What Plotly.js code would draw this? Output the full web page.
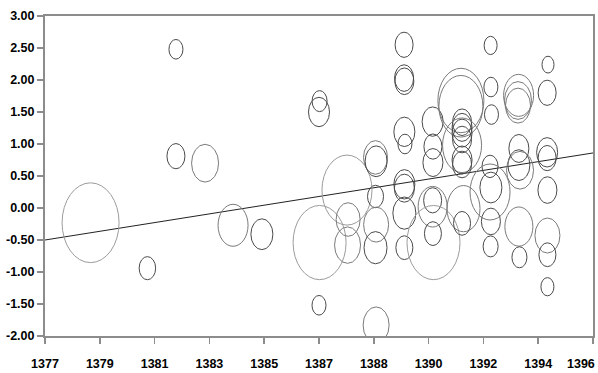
<!DOCTYPE html>
<html><head><meta charset="utf-8">
<script src="https://cdn.plot.ly/plotly-3.0.1.min.js"></script>
<style>html,body{margin:0;padding:0;background:#fff}#chart{width:598px;height:373px;overflow:hidden}</style>
</head><body><div id="chart"></div>
<script>
// Bubble data: year (x), value (y), bubble size
const bubbleX = [1378.58,1380.55,1381.54,1381.54,1382.55,1383.52,1384.52,
  1386.52,1386.50,1386.50,1386.52,1387.47,1387.51,1387.49,
  1388.46,1388.48,1388.46,1388.48,1388.46,1388.48,
  1389.45,1389.45,1389.46,1389.46,1389.48,1389.46,1389.46,1389.46,1389.46,
  1390.44,1390.45,1390.45,1390.44,1390.44,1390.45,1390.47,
  1391.42,1391.42,1391.46,1391.46,1391.46,1391.46,1391.46,1391.46,1391.46,1391.51,1391.46,
  1392.45,1392.46,1392.48,1392.43,1392.46,1392.43,1392.46,1392.45,
  1393.42,1393.40,1393.40,1393.43,1393.43,1393.47,1393.43,1393.45,
  1394.44,1394.41,1394.41,1394.41,1394.42,1394.42,1394.42,1394.42];
const bubbleY = [-0.23,-0.94,2.48,0.81,0.70,-0.27,-0.41,
  1.67,1.50,-1.52,-0.54,0.28,-0.18,-0.58,
  0.79,0.73,0.18,-0.26,-0.62,-1.83,
  2.55,2.03,1.98,1.19,1.00,0.37,0.31,-0.08,-0.62,
  1.35,0.96,0.71,0.02,0.12,-0.40,-0.54,
  1.68,1.59,1.34,1.26,1.17,1.07,0.98,0.75,0.68,-0.01,-0.24,
  2.54,1.89,1.46,0.65,0.32,0.25,-0.21,-0.60,
  1.76,1.68,1.60,0.93,0.67,0.59,-0.29,-0.77,
  2.24,1.80,0.87,0.78,0.28,-0.43,-0.73,-1.23];
const bubbleSize = [57,16.5,14,18,27,30,22,
  15,21,14,53,50,24,26,
  24,22,16,25,23,26,
  18,19,19,21,14,21,20,23,17,
  21,18,20,29,18,17,53,
  46,44,19,20,20,19,39,20,19,33,17,
  13,14,14,16,22,40,19,15,
  30,27,25,20,22,27,28,15,
  12,18,21,18,19,25,17,13];
// Trend line endpoints
const trendX = [1377, 1396];
const trendY = [-0.50, 0.86];
// Axis ticks
const xTickVals = [1377,1378.9,1380.8,1382.7,1384.6,1386.5,1388.4,1390.3,1392.2,1394.1,1396];
const xTickText = ['1377','1379','1381','1383','1385','1387','1388','1390','1392','1394','1396'];
const yTickVals = [-2,-1.5,-1,-0.5,0,0.5,1,1.5,2,2.5,3];
const yTickText = ['-2.00','-1.50','-1.00','-0.50','0.00','0.50','1.00','1.50','2.00','2.50','3.00'];

const W = 598, H = 373;
const margin = {l:45, r:5, t:16, b:37};
const xRange = [1377, 1396], yRange = [-2, 3];
const pxPerX = (W - margin.l - margin.r) / (xRange[1] - xRange[0]);
const pxPerY = (H - margin.t - margin.b) / (yRange[1] - yRange[0]);
const aspect = 1.4;

function shade(s){ return s >= 48 ? '#9c9c9c' : (s >= 24 ? '#7a7a7a' : '#4a4a4a'); }

const shapes = bubbleX.map((x, i) => {
  const s = bubbleSize[i];
  const rx = s / 2 / pxPerX, ry = s * aspect / 2 / pxPerY;
  const y = bubbleY[i];
  return {type:'circle', xref:'x', yref:'y', x0:x-rx, x1:x+rx, y0:y-ry, y1:y+ry,
    line:{color:shade(s), width:1}, fillcolor:'rgba(0,0,0,0)', layer:'above'};
});

const tickFont = {family:'"Liberation Sans", Arial, sans-serif', size:12.5, color:'#000', weight:700};

const data = [
  {x:bubbleX, y:bubbleY, mode:'markers', type:'scatter',
   marker:{size:bubbleSize.map(s=>s), color:'rgba(0,0,0,0)', line:{width:0}},
   hoverinfo:'x+y', showlegend:false},
  {x:trendX, y:trendY, mode:'lines', type:'scatter',
   line:{color:'#222', width:1}, hoverinfo:'skip', showlegend:false}
];

const axisCommon = {showgrid:false, zeroline:false, showline:true, linecolor:'#8c8c8c',
  linewidth:2, mirror:true, ticks:'outside', ticklen:6, tickwidth:1.5, tickcolor:'#8c8c8c',
  tickfont:tickFont, fixedrange:true};

const lastIdx = xTickText.length - 1;
const layout = {
  width:W, height:H, margin:margin, paper_bgcolor:'#fff', plot_bgcolor:'#fff',
  showlegend:false,
  xaxis:Object.assign({}, axisCommon, {range:xRange, tickmode:'array', tickvals:xTickVals,
    ticktext:xTickText.map((t,i)=> i === lastIdx ? '' : '<b>'+t+'</b>'), ticklabelstandoff:9}),
  yaxis:Object.assign({}, axisCommon, {range:yRange, tickmode:'array', tickvals:yTickVals,
    ticktext:yTickText.map(t=>'<b>'+t+'</b>')}),
  shapes:shapes,
  annotations:[{xref:'x', yref:'paper', x:xTickVals[lastIdx], y:0, xanchor:'right', yanchor:'top',
    xshift:4, yshift:-19, showarrow:false, text:'<b>'+xTickText[lastIdx]+'</b>', font:tickFont}]
};
Plotly.newPlot('chart', data, layout, {displayModeBar:false, staticPlot:true});
</script></body></html>
